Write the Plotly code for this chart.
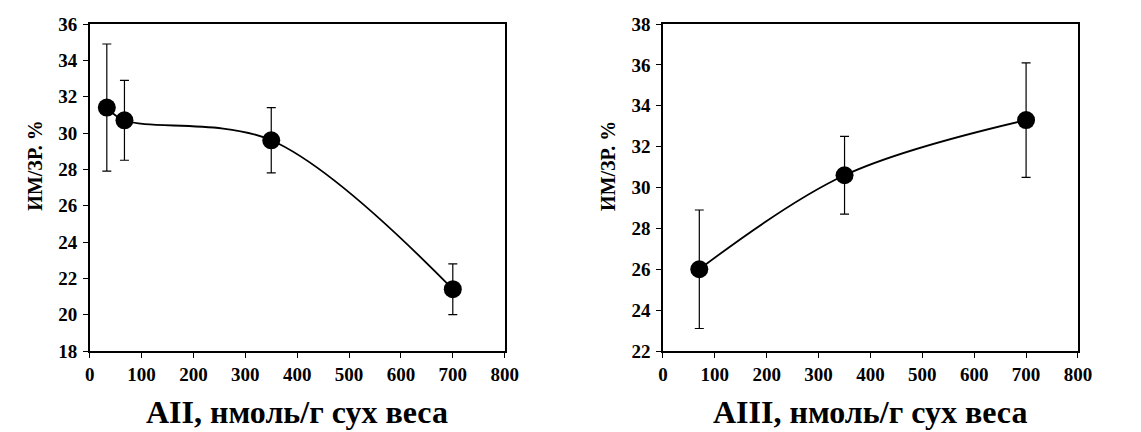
import plotly.graph_objects as go

# Left panel: AII
x_aii = [33, 67, 350, 700]
y_aii = [31.4, 30.7, 29.6, 21.4]
err_aii = [3.5, 2.2, 1.8, 1.4]

# Right panel: AIII
x_aiii = [70, 350, 700]
y_aiii = [26.0, 30.6, 33.3]
err_aiii = [2.9, 1.9, 2.8]

xticks = [0, 100, 200, 300, 400, 500, 600, 700, 800]

FONT = "Liberation Serif"
W, H = 1141, 432

fig = go.Figure()

# smoothed connecting lines through the data points
fig.add_trace(go.Scatter(x=x_aii, y=y_aii, mode="lines",
                         line=dict(color="black", width=1.8, shape="spline", smoothing=1),
                         xaxis="x", yaxis="y", showlegend=False, hoverinfo="skip"))
fig.add_trace(go.Scatter(x=x_aii, y=y_aii, mode="markers",
                         marker=dict(color="black", size=18),
                         error_y=dict(type="data", array=err_aii, color="black", thickness=1.2, width=4.5),
                         xaxis="x", yaxis="y", showlegend=False))

fig.add_trace(go.Scatter(x=x_aiii, y=y_aiii, mode="lines",
                         line=dict(color="black", width=1.8, shape="spline", smoothing=1),
                         xaxis="x2", yaxis="y2", showlegend=False, hoverinfo="skip"))
fig.add_trace(go.Scatter(x=x_aiii, y=y_aiii, mode="markers",
                         marker=dict(color="black", size=18),
                         error_y=dict(type="data", array=err_aiii, color="black", thickness=1.2, width=4.5),
                         xaxis="x2", yaxis="y2", showlegend=False))

tickfont = dict(family=FONT, size=19, color="black", weight="bold")
common_x = dict(range=[0, 800], tickvals=xticks, ticks="outside", ticklen=5, tickwidth=1.2,
                tickcolor="black", showline=True, linecolor="black", linewidth=1.5, mirror=True,
                showgrid=False, zeroline=False, tickfont=tickfont)
common_y = dict(dtick=2, ticks="outside", ticklen=5, tickwidth=1.2, tickcolor="black",
                showline=True, linecolor="black", linewidth=1.5, mirror=True,
                showgrid=False, zeroline=False, tickfont=tickfont, ticklabelstandoff=2)

fig.update_layout(
    width=W, height=H,
    margin=dict(l=0, r=0, t=16, b=89),
    paper_bgcolor="white", plot_bgcolor="white",
    font=dict(family=FONT, color="black"),
    xaxis=dict(domain=[78 / W, 500 / W], anchor="y", **common_x),
    yaxis=dict(domain=[0, 1], anchor="x", range=[18, 36], **common_y),
    xaxis2=dict(domain=[661 / W, 1083 / W], anchor="y2", **common_x),
    yaxis2=dict(domain=[0, 1], anchor="x2", range=[22, 38], **common_y),
)

def px_x(p):
    return p / W

def px_y(p):
    return (343 - p) / (343 - 16)

titlefont_x = dict(family=FONT, size=32, color="black", weight="bold")
titlefont_y = dict(family=FONT, size=20, color="black", weight="bold")
fig.add_annotation(text="AII, нмоль/г сух веса", x=px_x(289), y=px_y(404), xref="paper", yref="paper",
                   showarrow=False, font=titlefont_x, xanchor="center", yanchor="middle")
fig.add_annotation(text="AIII, нмоль/г сух веса", x=px_x(872), y=px_y(404), xref="paper", yref="paper",
                   showarrow=False, font=titlefont_x, xanchor="center", yanchor="middle")
fig.add_annotation(text="ИМ/ЗР. %", x=px_x(22), y=px_y(158), xref="paper", yref="paper",
                   showarrow=False, font=titlefont_y, textangle=-90, xanchor="center", yanchor="middle")
fig.add_annotation(text="ИМ/ЗР. %", x=px_x(605), y=px_y(158), xref="paper", yref="paper",
                   showarrow=False, font=titlefont_y, textangle=-90, xanchor="center", yanchor="middle")

fig.write_html("out.html")
